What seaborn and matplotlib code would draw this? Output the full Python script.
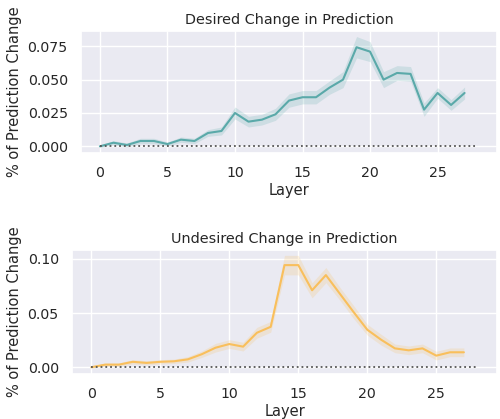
import numpy as np
import matplotlib
matplotlib.use("Agg")
import matplotlib.pyplot as plt
import seaborn as sns

layers = list(range(28))

desired = [0.0, 0.0027, 0.001, 0.004, 0.004, 0.0017, 0.005, 0.004, 0.010, 0.0115,
           0.025, 0.0185, 0.020, 0.024, 0.0343, 0.0368, 0.0368, 0.044, 0.050, 0.0743,
           0.071, 0.050, 0.055, 0.0543, 0.0275, 0.040, 0.031, 0.040]
desired_err = [0.0008, 0.0015, 0.0015, 0.002, 0.002, 0.0015, 0.002, 0.002, 0.0025, 0.003,
               0.0045, 0.004, 0.004, 0.0045, 0.005, 0.005, 0.005, 0.005, 0.006, 0.008,
               0.0075, 0.006, 0.0055, 0.0055, 0.005, 0.004, 0.004, 0.0045]

undesired = [0.0, 0.0024, 0.0024, 0.005, 0.004, 0.005, 0.0055, 0.0073, 0.012, 0.018,
             0.0214, 0.019, 0.0318, 0.0373, 0.0942, 0.0942, 0.071, 0.085, 0.068, 0.051,
             0.0346, 0.0254, 0.0174, 0.0156, 0.0174, 0.0107, 0.0138, 0.0138]
undesired_err = [0.0008, 0.0015, 0.0015, 0.002, 0.002, 0.002, 0.002, 0.0025, 0.003, 0.004,
                 0.004, 0.004, 0.005, 0.005, 0.009, 0.009, 0.007, 0.007, 0.006, 0.006,
                 0.005, 0.005, 0.004, 0.004, 0.004, 0.004, 0.004, 0.004]

sns.set_theme(style="darkgrid")

fig = plt.figure(figsize=(5, 4.19), dpi=100)
ax1 = fig.add_axes([0.162, 0.635, 0.832, 0.291])
ax2 = fig.add_axes([0.144, 0.108, 0.85, 0.296])

panels = [
    (ax1, desired, desired_err, "#5aa9a9", "Desired Change in Prediction"),
    (ax2, undesired, undesired_err, "#f9bf5c", "Undesired Change in Prediction"),
]

for ax, vals, err, color, title in panels:
    vals = np.array(vals)
    err = np.array(err)
    sns.lineplot(x=layers, y=vals, color=color, ax=ax, linewidth=1.5)
    ax.fill_between(layers, vals - err, vals + err, color=color, alpha=0.2, linewidth=0)
    ax.plot([0, 28], [0, 0], linestyle=":", color="#555555", linewidth=1.3)
    ax.set_title(title, fontsize=10.4, pad=5)
    ax.set_xlabel("Layer", fontsize=10.5, labelpad=2)
    ax.set_ylabel("% of Prediction Change", fontsize=10.5)
    ax.set_xticks([0, 5, 10, 15, 20, 25])
    ax.tick_params(labelsize=10.2)

ax1.set_yticks([0.0, 0.025, 0.05, 0.075])
ax2.set_yticks([0.0, 0.05, 0.10])
ax2.set_yticklabels(["0.00", "0.05", "0.10"])

plt.savefig("out.png")
